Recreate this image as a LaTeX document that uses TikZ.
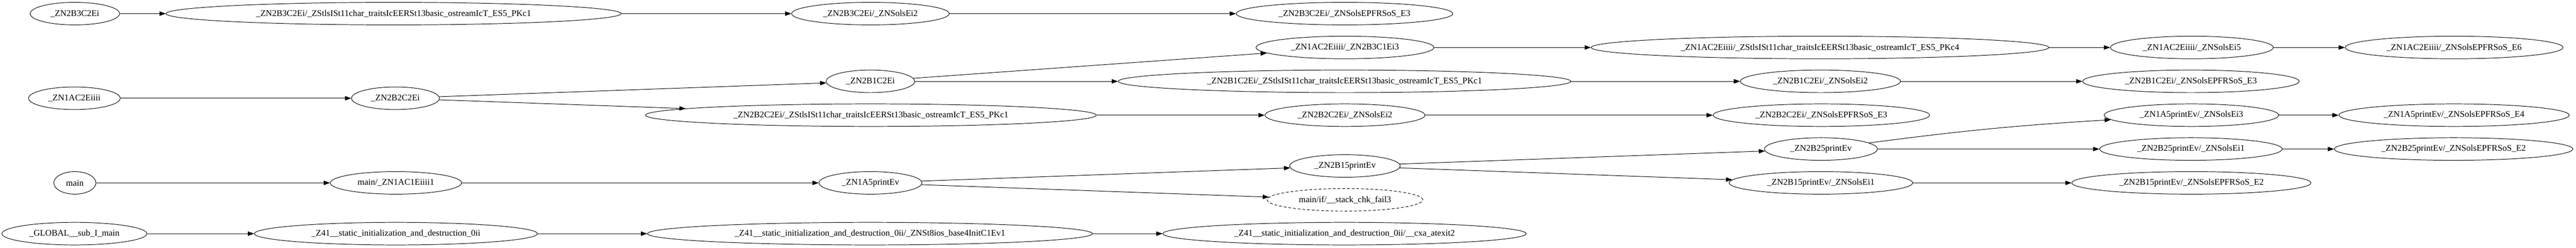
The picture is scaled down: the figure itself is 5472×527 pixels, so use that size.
\documentclass[tikz,border=0pt]{standalone}
\usepackage{fontspec}
\setmainfont{Liberation Serif}
\usetikzlibrary{shapes.geometric,arrows.meta,positioning}

\begin{document}
\begin{tikzpicture}[
	%	style def
    x=0.75pt, y=-0.75pt,
    fn/.style={draw, ellipse, line width=0.8pt, inner xsep=-12pt, inner ysep=0pt,
               minimum height=36pt, font=\fontsize{14}{16}\selectfont},
    ext fn/.style={fn, dash pattern=on 4.5pt off 3pt},
    call/.style={-{Triangle[length=10pt,width=7pt]}, line width=0.8pt}
    ]
    \useasboundingbox (0,0) rectangle (5472,527);

	% constructors of B3
    \node[fn, minimum width=142.5pt] (b3) at (159,29) {\_ZN2B3C2Ei};
    \node[fn, minimum width=725pt] (b3ls) at (836,29) {\_ZN2B3C2Ei/\_ZStlsISt11char\_traitsIcEERSt13basic\_ostreamIcT\_ES5\_PKc1};
    \node[fn, minimum width=251pt] (b3ols) at (1849,29) {\_ZN2B3C2Ei/\_ZNSolsEi2};
    \node[fn, minimum width=345pt] (b3e) at (2856,29) {\_ZN2B3C2Ei/\_ZNSolsEPFRSoS\_E3};

	% constructor of A, calling B3 and stream output
    \node[fn, minimum width=146pt] (a) at (158,209) {\_ZN1AC2Eiiii};
    \node[fn, minimum width=283.5pt] (a3) at (2857,101) {\_ZN1AC2Eiiii/\_ZN2B3C1Ei3};
    \node[fn, minimum width=729pt] (als) at (3866,101) {\_ZN1AC2Eiiii/\_ZStlsISt11char\_traitsIcEERSt13basic\_ostreamIcT\_ES5\_PKc4};
    \node[fn, minimum width=259.5pt] (aols) at (4656,101) {\_ZN1AC2Eiiii/\_ZNSolsEi5};
    \node[fn, minimum width=347pt] (ae) at (5213,101) {\_ZN1AC2Eiiii/\_ZNSolsEPFRSoS\_E6};

	% constructors of B1, B2
    \node[fn, minimum width=141pt] (b1) at (1849,173) {\_ZN2B1C2Ei};
    \node[fn, minimum width=721pt] (b1ls) at (2856,173) {\_ZN2B1C2Ei/\_ZStlsISt11char\_traitsIcEERSt13basic\_ostreamIcT\_ES5\_PKc1};
    \node[fn, minimum width=255pt] (b1ols) at (3867,173) {\_ZN2B1C2Ei/\_ZNSolsEi2};
    \node[fn, minimum width=345pt] (b1e) at (4654,173) {\_ZN2B1C2Ei/\_ZNSolsEPFRSoS\_E3};
    \node[fn, minimum width=140pt] (b2) at (840,209) {\_ZN2B2C2Ei};
    \node[fn, minimum width=718.5pt] (b2ls) at (1850,245) {\_ZN2B2C2Ei/\_ZStlsISt11char\_traitsIcEERSt13basic\_ostreamIcT\_ES5\_PKc1};
    \node[fn, minimum width=255pt] (b2ols) at (2857,245) {\_ZN2B2C2Ei/\_ZNSolsEi2};
    \node[fn, minimum width=345pt] (b2e) at (3869,245) {\_ZN2B2C2Ei/\_ZNSolsEPFRSoS\_E3};

	% print chain
    \node[fn, minimum width=67pt] (main) at (159,389) {main};
    \node[fn, minimum width=209pt] (mainA) at (841,389) {main/\_ZN1AC1Eiiii1};
    \node[fn, minimum width=164pt] (pA) at (1849,389) {\_ZN1A5printEv};
    \node[ext fn, minimum width=248pt] (chk) at (2857,425) {main/if/\_\_stack\_chk\_fail3};
    \node[fn, minimum width=176pt] (p15) at (2857,353) {\_ZN2B15printEv};
    \node[fn, minimum width=292.5pt] (p15ols) at (3868,389) {\_ZN2B15printEv/\_ZNSolsEi1};
    \node[fn, minimum width=381pt] (p15e) at (4655,389) {\_ZN2B15printEv/\_ZNSolsEPFRSoS\_E2};
    \node[fn, minimum width=180pt] (p25) at (3868,317) {\_ZN2B25printEv};
    \node[fn, minimum width=291pt] (p25ols) at (4654,317) {\_ZN2B25printEv/\_ZNSolsEi1};
    \node[fn, minimum width=380pt] (p25e) at (5212,317) {\_ZN2B25printEv/\_ZNSolsEPFRSoS\_E2};
    \node[fn, minimum width=278pt] (pAols) at (4655,245) {\_ZN1A5printEv/\_ZNSolsEi3};
    \node[fn, minimum width=367pt] (pAe) at (5213,245) {\_ZN1A5printEv/\_ZNSolsEPFRSoS\_E4};

	% static init
    \node[fn, minimum width=231pt] (glob) at (158,497) {\_GLOBAL\_\_sub\_I\_main};
    \node[fn, minimum width=451pt] (sinit) at (841,497) {\_Z41\_\_static\_initialization\_and\_destruction\_0ii};
    \node[fn, minimum width=709pt] (sios) at (1848,497) {\_Z41\_\_static\_initialization\_and\_destruction\_0ii/\_ZNSt8ios\_base4InitC1Ev1};
    \node[fn, minimum width=579pt] (satx) at (2856,497) {\_Z41\_\_static\_initialization\_and\_destruction\_0ii/\_\_cxa\_atexit2};

	% calls
    \draw[call] (b3) -- (b3ls);
    \draw[call] (b3ls) -- (b3ols);
    \draw[call] (b3ols) -- (b3e);
    \draw[call] (a) -- (b2);
    \draw[call] (b2) -- (b1);
    \draw[call] (b2) -- (b2ls);
    \draw[call] (b1) -- (a3);
    \draw[call] (b1) -- (b1ls);
    \draw[call] (a3) -- (als);
    \draw[call] (als) -- (aols);
    \draw[call] (aols) -- (ae);
    \draw[call] (b1ls) -- (b1ols);
    \draw[call] (b1ols) -- (b1e);
    \draw[call] (b2ls) -- (b2ols);
    \draw[call] (b2ols) -- (b2e);
    \draw[call] (main) -- (mainA);
    \draw[call] (mainA) -- (pA);
    \draw[call] (pA) -- (p15);
    \draw[call] (pA) -- (chk);
    \draw[call] (p15) -- (p25);
    \draw[call] (p15) -- (p15ols);
    \draw[call] (p25) to[bend left=2] (pAols);
    \draw[call] (p25) -- (p25ols);
    \draw[call] (pAols) -- (pAe);
    \draw[call] (p25ols) -- (p25e);
    \draw[call] (p15ols) -- (p15e);
    \draw[call] (glob) -- (sinit);
    \draw[call] (sinit) -- (sios);
    \draw[call] (sios) -- (satx);
\end{tikzpicture}
\end{document}
